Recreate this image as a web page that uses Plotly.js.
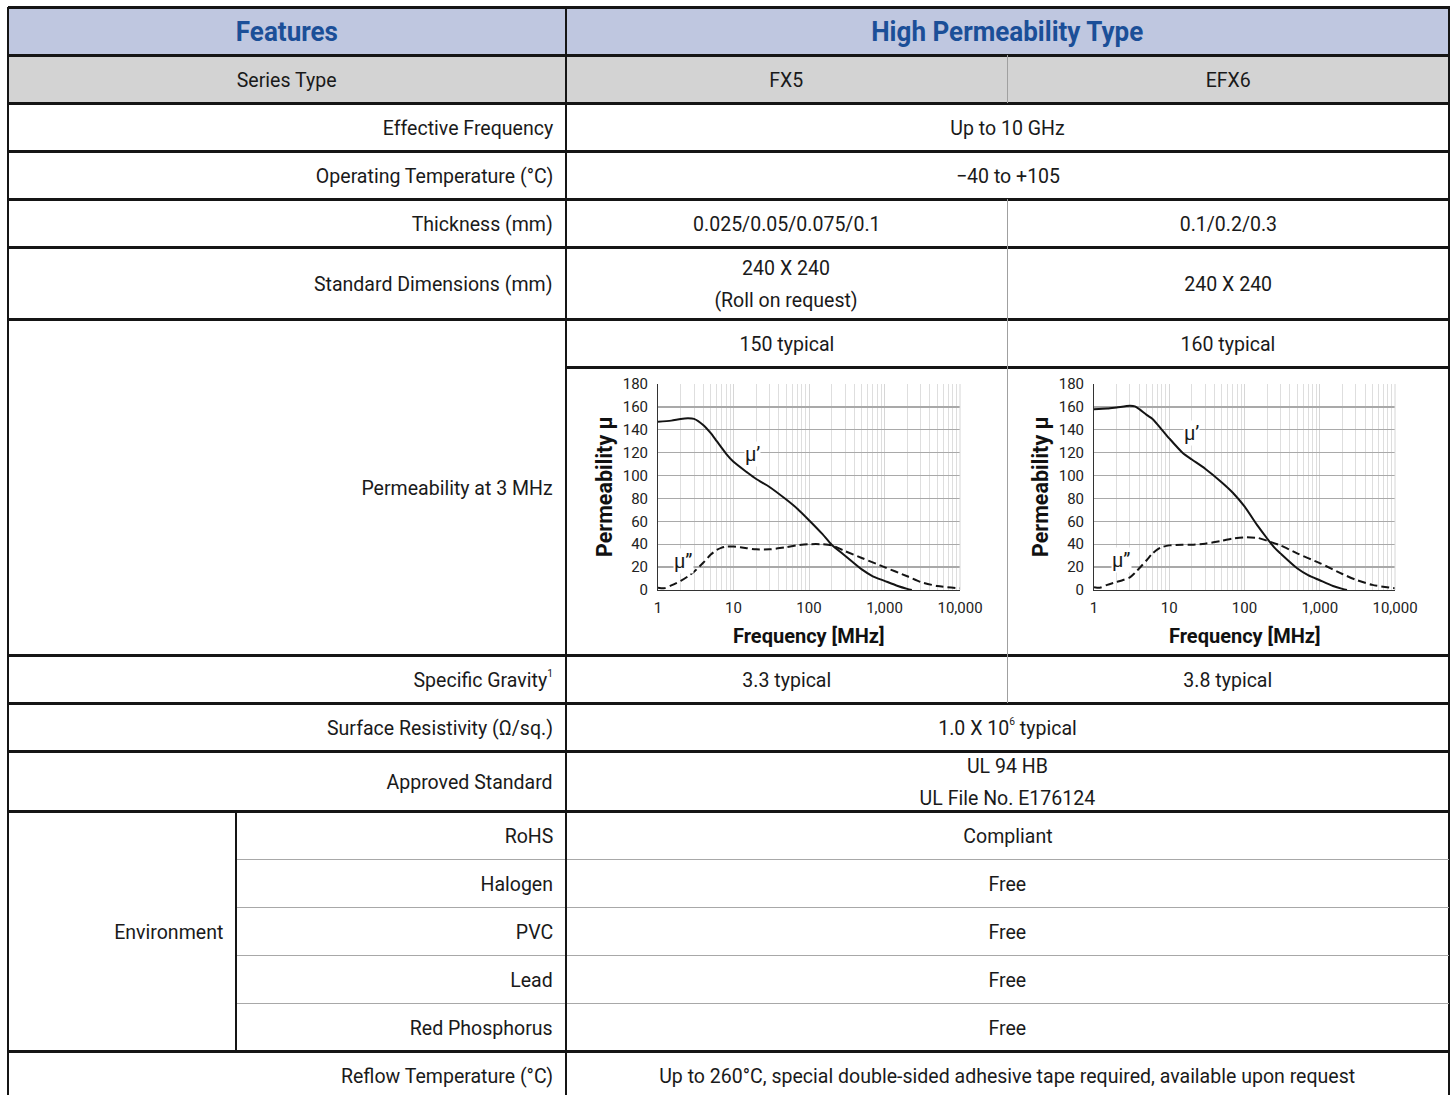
<!DOCTYPE html>
<html><head><meta charset="utf-8">
<script src="https://cdn.plot.ly/plotly-3.0.1.min.js"></script>
<style>
body{margin:0;background:#fff;}
#page{position:relative;width:1453px;height:1095px;overflow:hidden;background:#fff;font-family:Roboto,"Noto Sans",sans-serif;color:#1a1a1a;}
.t{position:absolute;display:flex;align-items:center;font-size:21px;line-height:32px;box-sizing:border-box;padding-top:2px;}
.t span{display:inline-block;transform:scaleX(0.93);white-space:nowrap;}
.t.r{justify-content:flex-end;padding-right:13px;text-align:right;}
.t.r span{transform-origin:right center;}
.t.c{justify-content:center;text-align:center;}
.t.c span{transform-origin:center center;}
.t.h{font-weight:700;font-size:28px;color:#1b4f98;}
.t sup{font-size:11px;vertical-align:top;line-height:20px;}
.ln{position:absolute;}
.ch{position:absolute;}
</style>
</head><body>
<div id="page"></div>
<script>
// ---------- table content ----------
const headerTitles = ['Features', 'High Permeability Type'];
const seriesTypes = ['Series Type', 'FX5', 'EFX6'];
const featureNames = ['Effective Frequency', 'Operating Temperature (°C)', 'Thickness (mm)', 'Standard Dimensions (mm)', 'Permeability at 3 MHz', 'Specific Gravity<sup>1</sup>', 'Surface Resistivity (Ω/sq.)', 'Approved Standard'];
const fx5Values = ['Up to 10 GHz', '−40 to +105', '0.025/0.05/0.075/0.1', '240 X 240<br>(Roll on request)', '150 typical', '3.3 typical', '1.0 X 10<sup>6</sup> typical', 'UL 94 HB<br>UL File No. E176124'];
const efx6Values = [null, null, '0.1/0.2/0.3', '240 X 240', '160 typical', '3.8 typical', null, null];
const environmentLabel = 'Environment';
const environmentItems = ['RoHS', 'Halogen', 'PVC', 'Lead', 'Red Phosphorus'];
const environmentValues = ['Compliant', 'Free', 'Free', 'Free', 'Free'];
const reflowLabel = 'Reflow Temperature (°C)';
const reflowValue = 'Up to 260°C, special double-sided adhesive tape required, available upon request';

// ---------- chart data (frequency in MHz) ----------
const fx5FreqReal = [1, 1.5, 2, 2.5, 3, 4, 5, 6, 8, 10, 15, 20, 30, 50, 70, 100, 150, 200, 300, 500, 700, 1000, 1500, 2000, 2300];
const fx5MuReal = [147, 148, 149.5, 150, 149.5, 144, 137, 130, 119, 112, 103, 97, 90, 79, 71, 61, 49, 39.5, 30, 18, 12, 8, 3.5, 1, 0];
const fx5FreqImag = [1, 1.2, 1.5, 2, 2.5, 3, 4, 5, 6, 7, 8, 10, 15, 20, 30, 50, 70, 100, 150, 200, 300, 500, 1000, 2000, 3000, 5000, 10000];
const fx5MuImag = [2, 1.5, 4, 8, 12, 16, 24, 31, 35, 37, 38, 38, 36.5, 35.5, 35.5, 37.5, 39, 40, 40, 39, 34, 28, 20, 12, 7, 3.5, 1.5];
const efx6FreqReal = [1, 1.5, 2, 3, 3.5, 4, 5, 6, 8, 10, 15, 20, 30, 50, 70, 100, 150, 200, 250, 300, 500, 700, 1000, 1500, 2000, 2300];
const efx6MuReal = [158, 158.5, 159.5, 161, 160.5, 158, 153, 149.5, 140, 132.5, 120, 114, 106, 94, 85, 73, 56, 45, 37, 32, 19, 13, 8.5, 3.5, 1, 0];
const efx6FreqImag = [1, 1.2, 1.5, 2, 2.5, 3, 3.5, 4, 5, 6, 7, 8, 10, 15, 20, 30, 50, 70, 100, 150, 200, 300, 500, 1000, 2000, 3000, 5000, 10000];
const efx6MuImag = [2.5, 2, 4.5, 7, 9, 11, 15, 19, 26, 32, 35.5, 37.5, 39, 39.5, 39.5, 40.5, 43, 45, 46, 45.5, 43, 39, 32, 23.5, 14, 9, 4.5, 1.5];
const xTickVals = [1, 10, 100, 1000, 10000];
const xTickText = ['1', '10', '100', '1,000', '10,000'];
const curveLabels = ['μ’', 'μ”'];
const fx5LabelFreq = [17.9, 2.15], fx5LabelMu = [119, 25];
const efx6LabelFreq = [19.6, 2.3], efx6LabelMu = [137, 26];

// ---------- geometry ----------
const page = document.getElementById('page');
const L = 8, C1 = 566, C2 = 1007, R = 1449, CE = 236;
const rowY = [7, 55, 103, 151, 199, 247, 319, 655, 703, 751, 811, 1051, 1099];
const subPermY = 367;
const envY = [811, 859, 907, 955, 1003, 1051];

function box(x0, y0, x1, y1, bg) {
  const d = document.createElement('div');
  d.className = 'ln';
  d.style.cssText = `left:${x0}px;top:${y0}px;width:${x1 - x0}px;height:${y1 - y0}px;background:${bg};`;
  page.appendChild(d);
}
function txt(x0, y0, x1, y1, html, cls) {
  const d = document.createElement('div');
  d.className = 't ' + cls;
  d.style.cssText = `left:${x0}px;top:${y0}px;width:${x1 - x0}px;height:${y1 - y0}px;`;
  d.innerHTML = `<span>${html}</span>`;
  page.appendChild(d);
}
function hline(x0, x1, y, dark) { box(x0, y - (dark ? 1 : 0.5), x1, y + (dark ? 1.5 : 0.5), dark ? '#151515' : '#a8a8a8'); }
function vline(x, y0, y1, dark) { box(x - (dark ? 1 : 0.5), y0, x + (dark ? 1.2 : 0.5), y1, dark ? '#151515' : '#a0a0a0'); }

// backgrounds
box(L, rowY[0], R, rowY[1], '#bfc7e0');
box(L, rowY[1], R, rowY[2], '#d3d3d3');

// header and series rows
txt(L, rowY[0], C1, rowY[1], headerTitles[0], 'c h');
txt(C1, rowY[0], R, rowY[1], headerTitles[1], 'c h');
txt(L, rowY[1], C1, rowY[2], seriesTypes[0], 'c');
txt(C1, rowY[1], C2, rowY[2], seriesTypes[1], 'c');
txt(C2, rowY[1], R, rowY[2], seriesTypes[2], 'c');

// feature rows
for (let i = 0; i < featureNames.length; i++) {
  const y0 = rowY[i + 2], y1 = rowY[i + 3];
  txt(L, y0, C1, y1, featureNames[i], 'r');
  let vy1 = y1;
  if (featureNames[i].startsWith('Permeability')) vy1 = subPermY;
  if (efx6Values[i] === null) {
    txt(C1, y0, R, vy1, fx5Values[i], 'c');
  } else {
    txt(C1, y0, C2, vy1, fx5Values[i], 'c');
    txt(C2, y0, R, vy1, efx6Values[i], 'c');
  }
}
// environment
txt(L, envY[0], CE, envY[envY.length - 1], environmentLabel, 'r');
for (let i = 0; i < environmentItems.length; i++) {
  txt(CE, envY[i], C1, envY[i + 1], environmentItems[i], 'r');
  txt(C1, envY[i], R, envY[i + 1], environmentValues[i], 'c');
}
// reflow
txt(L, rowY[11], C1, rowY[12], reflowLabel, 'r');
txt(C1, rowY[11], R, rowY[12], reflowValue, 'c');

// ---------- charts ----------
function makeChart(id, left, width, marginL, marginR, fReal, mReal, fImag, mImag, labF, labM) {
  const d = document.createElement('div');
  d.id = id; d.className = 'ch';
  d.style.cssText = `left:${left}px;top:368px;width:${width}px;height:287px;`;
  page.appendChild(d);
  const minorVals = [];
  for (let p = 1; p <= 1000; p *= 10) for (let k = 2; k <= 9; k++) minorVals.push(k * p);
  const traces = [
    {x: fReal, y: mReal, mode: 'lines', line: {color: '#141414', width: 2, shape: 'spline', smoothing: 0.7}, hoverinfo: 'skip'},
    {x: fImag, y: mImag, mode: 'lines', line: {color: '#141414', width: 2, dash: '8px,4px', shape: 'spline', smoothing: 0.7}, hoverinfo: 'skip'}
  ];
  const fnt = {family: 'Roboto, sans-serif', size: 15, color: '#222'};
  const ann = curveLabels.map((t, i) => ({
    x: Math.log10(labF[i]), y: labM[i], xref: 'x', yref: 'y', text: t, showarrow: false,
    xanchor: 'center', yanchor: 'middle',
    font: {family: 'Roboto, sans-serif', size: 20, color: '#1a1a1a'}, bgcolor: '#ffffff', borderpad: 0
  }));
  ann.push({xref: 'paper', yref: 'paper', x: 0, y: 0.5, xshift: -54, xanchor: 'center', yanchor: 'middle',
    textangle: -90, showarrow: false,
    text: '<b>Permeability μ</b>', font: {family: 'Roboto, sans-serif', size: 21.5, color: '#111'}});
  ann.push({xref: 'paper', yref: 'paper', x: 0.5, y: 0, yshift: -46, xanchor: 'center', yanchor: 'middle',
    showarrow: false,
    text: '<b>Frequency [MHz]</b>', font: {family: 'Roboto, sans-serif', size: 20, color: '#111'}});
  const layout = {
    width: width, height: 287,
    margin: {l: marginL, r: marginR, t: 16, b: 65},
    paper_bgcolor: 'rgba(0,0,0,0)', plot_bgcolor: '#ffffff',
    showlegend: false, font: fnt,
    xaxis: {type: 'log', range: [0, 4], tickvals: xTickVals, ticktext: xTickText, tickfont: fnt,
      showgrid: true, gridcolor: '#d6d6d6', gridwidth: 1, zeroline: false,
      showline: true, linecolor: '#333', linewidth: 1, ticks: '', ticklabelstandoff: 4,
      minor: {tickvals: minorVals, showgrid: true, gridcolor: '#dedede', gridwidth: 1}},
    yaxis: {range: [0, 180], dtick: 20, tickfont: fnt, showgrid: true, gridcolor: '#a9a9a9', gridwidth: 1.3,
      zeroline: false, showline: true, linecolor: '#333', linewidth: 1, ticks: '', ticklabelstandoff: 6},
    shapes: [
      {type: 'line', xref: 'paper', yref: 'paper', x0: 1, x1: 1, y0: 0, y1: 1, line: {color: '#d6d6d6', width: 1}}
    ],
    annotations: ann
  };
  Plotly.newPlot(id, traces, layout, {staticPlot: true, displayModeBar: false});
}
makeChart('chartFX5', 567, 440, 91, 47, fx5FreqReal, fx5MuReal, fx5FreqImag, fx5MuImag, fx5LabelFreq, fx5LabelMu);
makeChart('chartEFX6', 1008, 441, 86, 54, efx6FreqReal, efx6MuReal, efx6FreqImag, efx6MuImag, efx6LabelFreq, efx6LabelMu);

// ---------- grid lines ----------
hline(L, R + 1, rowY[0], true);
vline(L, rowY[0], 1095, true);
vline(R, rowY[0], 1095, true);
for (let i = 1; i < rowY.length - 1; i++) hline(L, R, rowY[i], true);
hline(C1, R, subPermY, true);
for (let i = 1; i < envY.length - 1; i++) hline(CE, R, envY[i], false);
vline(CE, envY[0], envY[envY.length - 1], true);
vline(C1, rowY[0], 1095, true);
vline(C2, rowY[1], rowY[2], false);
vline(C2, rowY[4], rowY[8], false);
</script>
</body></html>
